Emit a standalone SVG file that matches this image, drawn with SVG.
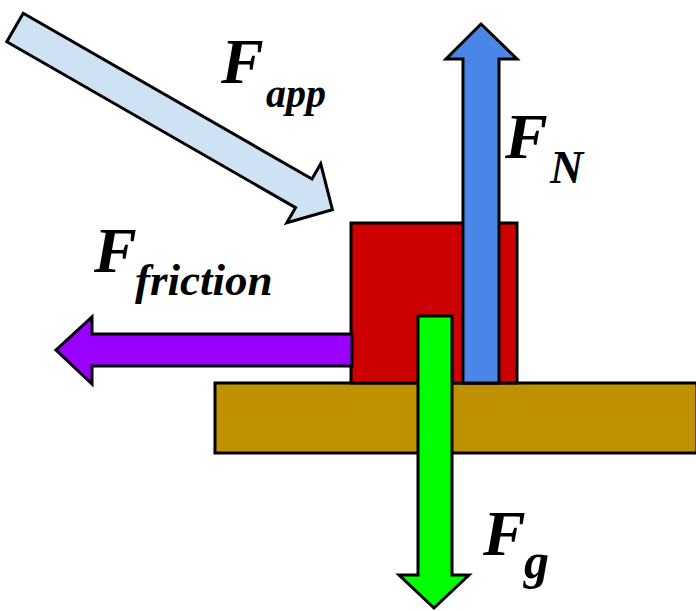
<svg xmlns="http://www.w3.org/2000/svg" width="696" height="611" viewBox="0 0 696 611">
<style>
.s{stroke:#000;stroke-width:3;stroke-linejoin:miter}
.F{font-family:"Liberation Serif","Times New Roman",serif;font-weight:bold;font-style:italic;fill:#000}
</style>
<rect width="696" height="611" fill="#fff"/>
<g id="ground"><rect class="s" x="215" y="383" width="482" height="70" fill="#bf9000"/></g>
<g id="block"><rect class="s" x="351" y="223" width="166" height="160" fill="#cc0000"/></g>
<g id="connectors">
<polygon id="fn" class="s" fill="#4a86e8" points="463,383 463,59 446,59 481,24 517,59 499,59 499,383"/>
<polygon id="fg" class="s" fill="#00ff00" points="418,316 452,316 452,575 469,575 434,608 399,575 418,575"/>
<polygon id="ff" class="s" fill="#9900ff" points="352,334 92,334 92,317 56,350 92,384 92,366 352,366"/>
<polygon id="fapp" class="s" fill="#cfe2f3" transform="translate(15,27.5) rotate(29.86)" points="0,-16.5 333,-16.5 333,-34 366,0 333,34 333,16.5 0,16.5"/>
</g>
<g id="label-app"><text class="F" x="221" y="83" font-size="64">F</text><text class="F" x="266" y="107" font-size="40">app</text></g>
<g id="label-n"><text class="F" x="505" y="158" font-size="64">F</text><text class="F" x="550" y="183" font-size="46" font-weight="normal">N</text></g>
<g id="label-friction"><text class="F" x="94" y="272" font-size="64">F</text><text class="F" x="135" y="295" font-size="45">friction</text></g>
<g id="label-g"><text class="F" x="483" y="555" font-size="64">F</text><text class="F" x="524" y="578" font-size="50">g</text></g>
</svg>
